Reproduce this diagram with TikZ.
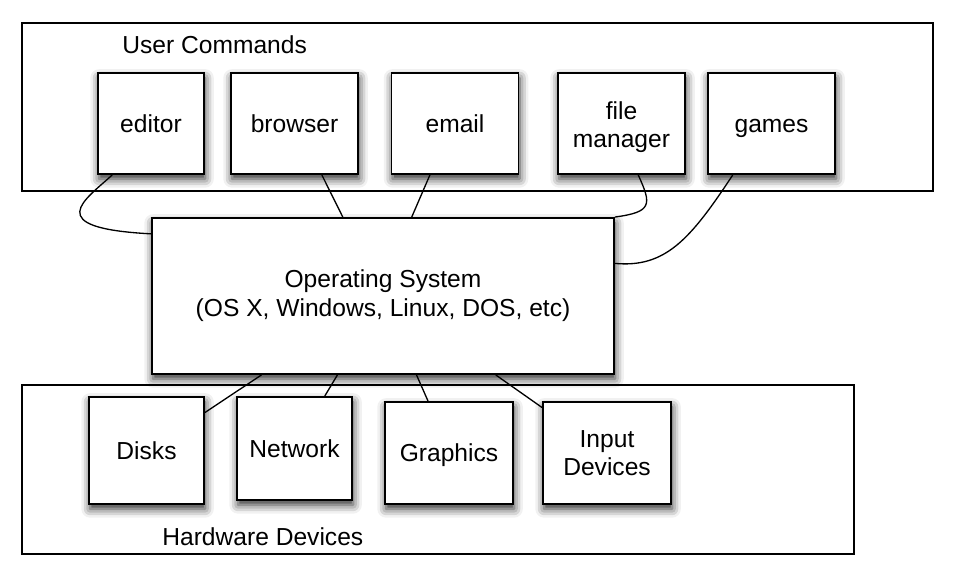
\documentclass[tikz,border=0pt]{standalone}
\usepackage{fontspec}
\setmainfont{Liberation Sans}
\usetikzlibrary{shadows,shadows.blur}

\begin{document}
\begin{tikzpicture}[
    x=0.02cm, y=-0.02cm,
    frame/.style={draw, line width=0.75pt},
    layerlabel/.style={font=\fontsize{14}{16}\selectfont, anchor=base west, inner sep=0pt},
    unit/.style={draw, fill=white, line width=1.1pt, inner sep=0pt, align=center,
        font=\fontsize{14}{16}\selectfont,
        blur shadow={shadow xshift=0.6pt, shadow yshift=-2.8pt, shadow blur radius=5pt, shadow opacity=85}},
    oneline/.style={text height=10pt, text depth=0pt},
    link/.style={line width=0.75pt}
]
\useasboundingbox (0,0) rectangle (956,577);

% Layer frames
\draw[frame] (22,23) rectangle (933,191);
\node[layerlabel] (cmdlabel) at (122,54) {User Commands};

\draw[frame] (22,385) rectangle (854,554);
\node[layerlabel] (hwlabel) at (162,545) {Hardware Devices};

% User commands
\node[unit, oneline, minimum width=2.12cm, minimum height=2.02cm] (editor) at (151,123.5) {editor};
\node[unit, oneline, minimum width=2.54cm, minimum height=2.02cm] (browser) at (294.5,123.5) {browser};
\node[unit, oneline, minimum width=2.54cm, minimum height=2.02cm] (email) at (455,123.5) {email};
\node[unit, minimum width=2.54cm, minimum height=2.02cm] (filemgr) at (621.5,123.5) {\rule{0pt}{14pt}file\\manager};
\node[unit, oneline, minimum width=2.54cm, minimum height=2.02cm] (games) at (771.5,123.5) {games};

% Operating system
\node[unit, minimum width=9.24cm, minimum height=3.12cm, font=\fontsize{14}{16.5}\selectfont] (os) at (383,296)
    {Operating System\\(OS X, Windows, Linux, DOS, etc)};

% Hardware devices
\node[unit, oneline, minimum width=2.3cm, minimum height=2.14cm] (disks) at (146.5,450.5) {Disks};
\node[unit, oneline, minimum width=2.3cm, minimum height=2.06cm] (network) at (294.5,448.5) {Network};
\node[unit, oneline, minimum width=2.56cm, minimum height=2.04cm] (graphics) at (449,453) {Graphics};
\node[unit, minimum width=2.56cm, minimum height=2.04cm] (input) at (607,453) {Input\\Devices};

% Commands to OS
\draw[link] (editor.233) .. controls (85,200) and (40,228) .. (os.165);
\draw[link] (browser.298) -- (os.117);
\draw[link] (email.244) -- (os.70);
\draw[link] (filemgr.288) .. controls (652,205) and (652,212) .. (os.north east);
\draw[link] (games.233) .. controls (690,240) and (665,268) .. (os.8);

% OS to hardware
\draw[link] (os.213) -- (disks.33);
\draw[link] (os.240) -- (network.60);
\draw[link] (os.293) -- (graphics.112);
\draw[link] (os.325) -- (input.145);

\end{tikzpicture}
\end{document}
